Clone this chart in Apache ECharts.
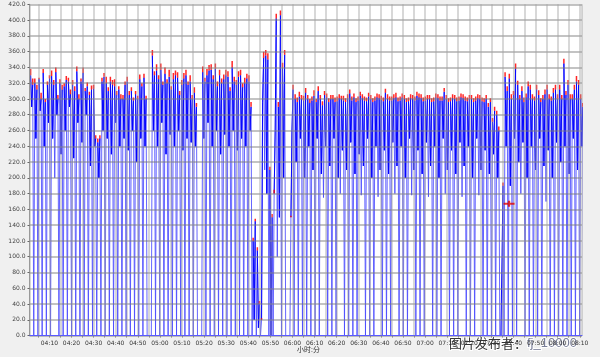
<!DOCTYPE html>
<html><head><meta charset="utf-8">
<script src="https://cdn.jsdelivr.net/npm/echarts@6/dist/echarts.min.js"></script>
<style>html,body{margin:0;padding:0;background:#f0f0f0;}#c{width:600px;height:357px;}</style>
</head><body><div id="c"></div>
<script>
// ---- data ----
const axisStart = '04:01:00';
const axisEnd = '08:11:00';
const sampleStart = '04:01:30';
const sampleStepSec = 28.5;          // 4 samples per pulse
const yTickStep = 20;
// per pulse: first peak, dip, second peak, trough; red = max
const pulseHi = [
330,320,325,333,318,329,334,320,316,322,
318,335,322,310,305,313,245,322,320,322,
316,312,300,322,310,306,325,327,0,355,
336,337,332,328,325,327,318,330,322,308,
0,334,330,337,338,330,325,328,340,318,
330,320,322,120,108,20,355,210,180,290,
340,0,150,300,303,298,300,298,296,300,
305,296,300,297,300,296,307,302,298,301,
297,300,298,301,297,300,298,302,298,300,
297,300,304,301,298,300,297,301,298,300,
297,300,298,301,297,300,298,300,296,290,
271,280,0,328,326,305,318,310,302,312,
298,305,300,312,298,312,312,345,318,300,
322,300];
const pulseDip = [
290,250,285,240,270,250,280,230,260,290,
225,270,245,280,215,240,200,260,250,230,
270,240,250,235,260,220,250,240,0,260,
240,270,230,255,240,260,235,250,245,240,
0,250,270,240,260,230,255,240,260,235,
250,240,260,20,10,295,180,0,260,150,
200,0,260,220,250,200,240,210,250,205,
240,215,250,200,235,210,245,205,230,215,
250,200,240,210,235,205,245,215,240,200,
250,210,235,205,245,215,240,200,250,210,
235,205,245,215,240,200,250,210,235,205,
230,200,0,240,190,250,220,245,200,240,
210,250,215,235,200,245,220,240,205,250,
210,240];
const pulseHi2 = [
318,312,300,296,326,318,300,312,324,306,
310,300,333,316,312,250,250,328,310,318,
305,300,318,305,298,300,316,300,0,330,
325,318,320,312,330,305,326,318,300,290,
0,322,336,325,316,320,330,310,322,328,
315,326,290,145,40,352,350,150,402,406,
356,0,312,296,300,308,295,304,310,292,
302,300,296,301,298,301,298,296,304,298,
303,296,302,299,308,298,301,297,302,296,
301,298,302,297,300,296,302,298,309,296,
301,297,302,298,300,296,301,297,300,296,
285,260,190,310,300,338,300,296,316,300,
312,296,306,300,308,300,300,305,300,312,
318,290];
const pulseLow = [
0,0,0,0,0,200,0,0,0,0,
0,0,0,0,0,0,0,0,0,0,
0,0,0,0,0,0,0,0,0,0,
0,0,0,0,0,0,0,0,0,0,
0,0,0,0,0,0,0,0,0,0,
0,0,0,0,0,210,0,0,100,0,
0,0,0,0,0,0,0,0,0,175,
0,0,0,180,0,0,0,0,178,0,
0,0,176,0,0,0,180,0,0,0,
178,0,0,0,176,0,0,0,180,0,
0,0,176,0,0,0,178,0,0,0,
0,0,0,0,0,0,180,0,0,0,
0,0,170,0,0,0,0,0,0,0,
0,0];
const maxHi = [
338,326,327,338,322,336,340,325,320,327,
324,341,326,314,309,318,250,327,328,328,
325,316,305,328,315,310,331,332,0,362,
344,345,340,337,333,334,324,337,330,315,
0,341,338,344,345,337,331,335,348,324,
337,327,330,124,112,22,362,214,185,296,
346,0,152,306,309,304,305,303,300,305,
310,301,305,303,304,301,312,307,303,306,
302,305,303,306,302,306,303,308,303,305,
302,305,309,306,303,305,302,306,303,305,
302,305,303,306,302,305,303,305,301,295,
276,285,0,334,332,310,323,316,307,318,
303,311,305,318,303,318,318,351,324,306,
329,306];
const maxHi2 = [
326,318,308,300,330,324,305,318,329,312,
316,306,340,321,317,254,254,333,315,324,
310,306,322,310,302,304,320,304,0,335,
330,322,325,316,336,310,333,322,305,295,
0,327,343,330,322,326,337,315,328,335,
320,332,296,148,44,360,358,154,408,412,
362,0,318,302,305,314,300,311,316,297,
307,305,302,306,304,306,303,301,309,303,
308,301,307,304,313,303,306,302,307,301,
306,303,307,302,305,301,307,303,314,301,
306,302,307,303,305,301,306,302,305,301,
290,265,194,316,306,345,305,302,322,306,
318,301,312,306,314,306,305,310,306,318,
324,295];
const cursorTime = ['07:38:00'];
const cursorValue = [167];

// ---- build ----
function ts(hms){const p=hms.split(':').map(Number);return new Date(2020,0,1,p[0],p[1],p[2]||0).getTime();}
const t0 = ts(sampleStart);
const light = [], dark = [], red = [];
for (let k=0;k<pulseHi.length;k++){
  const b=[pulseHi[k],pulseDip[k],pulseHi2[k],pulseLow[k]];
  const tt=[0,1,2,3].map(j=>t0+(k*4+j)*sampleStepSec*1000);
  for(let j=0;j<4;j++) light.push([tt[j],b[j]]);
  dark.push([tt[0],pulseHi[k]],[tt[1],pulseDip[k]],[tt[2],pulseHi2[k]],[tt[3],null]);
  if (maxHi[k]>pulseHi[k]) red.push([tt[0],pulseHi[k]],[tt[0],maxHi[k]],[tt[0],null]);
  if (maxHi2[k]>pulseHi2[k]) red.push([tt[2],pulseHi2[k]],[tt[2],maxHi2[k]],[tt[2],null]);
}
const pad=n=>(n<10?'0':'')+n;
const chart = echarts.init(document.getElementById('c'), null, {renderer:'canvas'});
chart.setOption({
  animation:false,
  backgroundColor:'#f0f0f0',
  grid:{left:29.5,right:18,top:4.3,bottom:21.4,show:true,backgroundColor:'#ffffff',borderWidth:0,containLabel:false,outerBoundsMode:'none'},
  xAxis:{
    type:'time', min:ts(axisStart), max:ts(axisEnd),
    minInterval:600000, maxInterval:600000, splitNumber:25, z:4,
    axisLine:{show:true,lineStyle:{color:'#5a5aff',width:1}},
    axisTick:{show:true,length:2,lineStyle:{color:'#888'}},
    axisLabel:{fontSize:6,color:'#333',margin:5,fontFamily:'DejaVu Sans',
      formatter:function(v){const d=new Date(v);if(d.getMinutes()%10||d.getSeconds())return '';return pad(d.getHours())+':'+pad(d.getMinutes());}},
    splitLine:{show:true,lineStyle:{color:'rgba(160,160,160,0.55)',width:1.5}}
  },
  yAxis:{
    type:'value', min:0, max:420, interval:yTickStep, z:4,
    name:'THD I有效值 [A]', nameLocation:'middle', nameGap:22, nameRotate:90,
    nameTextStyle:{fontSize:6.5,color:'#333',fontFamily:'Noto Sans CJK SC'},
    axisLine:{show:true,lineStyle:{color:'#999'}},
    axisTick:{show:true,length:2,lineStyle:{color:'#666'}},
    axisLabel:{fontSize:6,color:'#444',margin:4,fontFamily:'DejaVu Sans',formatter:v=>v.toFixed(1)},
    splitLine:{show:true,lineStyle:{color:'rgba(120,120,120,0.6)',width:1.5}}
  },
  series:[
    {type:'line',name:'THD I min',data:light,symbol:'none',sampling:false,lineStyle:{color:'#4a4aff',width:1,opacity:0.85},z:1},
    {type:'line',name:'THD I',data:dark,symbol:'none',sampling:false,connectNulls:false,lineStyle:{color:'#0000ff',width:1,opacity:0.95},z:2},
    {type:'line',name:'max',data:red,symbol:'none',sampling:false,connectNulls:false,lineStyle:{color:'#ff0000',width:1.5,opacity:0.85},z:3},
    {type:'scatter',data:cursorTime.map((t,i)=>[ts(t),cursorValue[i]]),symbol:'path://M0,2h10v2h-10z M4,0h2v6h-2z',symbolSize:[11,6],itemStyle:{color:'#e00000'},z:5}
  ],
  graphic:[
    {type:'text',left:297,top:346,style:{text:'小时:分',fontSize:7,fill:'#333',fontFamily:'Noto Sans CJK SC'}},
    {type:'text',left:448,top:336,style:{text:'{a|图片发布者：}{b|fj_10000}',fontFamily:'Noto Sans CJK SC',
      rich:{a:{fontSize:13,fill:'#333',stroke:'#fff',lineWidth:2,fontFamily:'Noto Sans CJK SC'},b:{fontSize:13,fill:'#7a7f99',stroke:'#fff',lineWidth:2,fontFamily:'Liberation Sans'}}}}
  ]
});
</script></body></html>
